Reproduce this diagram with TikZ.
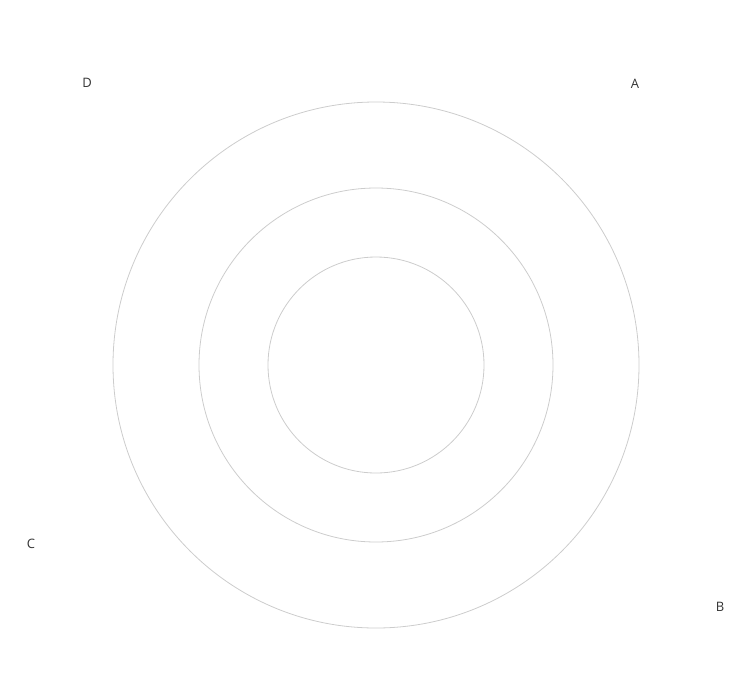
\documentclass[tikz,border=0pt]{standalone}
\usepackage{fontspec}
\setmainfont{Open Sans}
\usetikzlibrary{calc}

\definecolor{ringgray}{HTML}{CCCCCC}
\definecolor{labelgray}{HTML}{333333}

\begin{document}
\begin{tikzpicture}[x=1pt,y=-1pt]
  \useasboundingbox (0,0) rectangle (750,686);
  \tikzset{ring/.style={draw=ringgray,line width=0.8pt},
    corner/.style={text=labelgray,font=\fontsize{13}{15}\selectfont,inner sep=0pt}}
  \coordinate (O) at (376,365);
  \draw[ring] (O) circle(263);
  \draw[ring] (O) circle(177);
  \draw[ring] (O) circle(108);
  \node[corner] (A) at (635,84) {A};
  \node[corner] (B) at (720,607) {B};
  \node[corner] (C) at (31,544) {C};
  \node[corner] (D) at (87,83) {D};
\end{tikzpicture}
\end{document}
